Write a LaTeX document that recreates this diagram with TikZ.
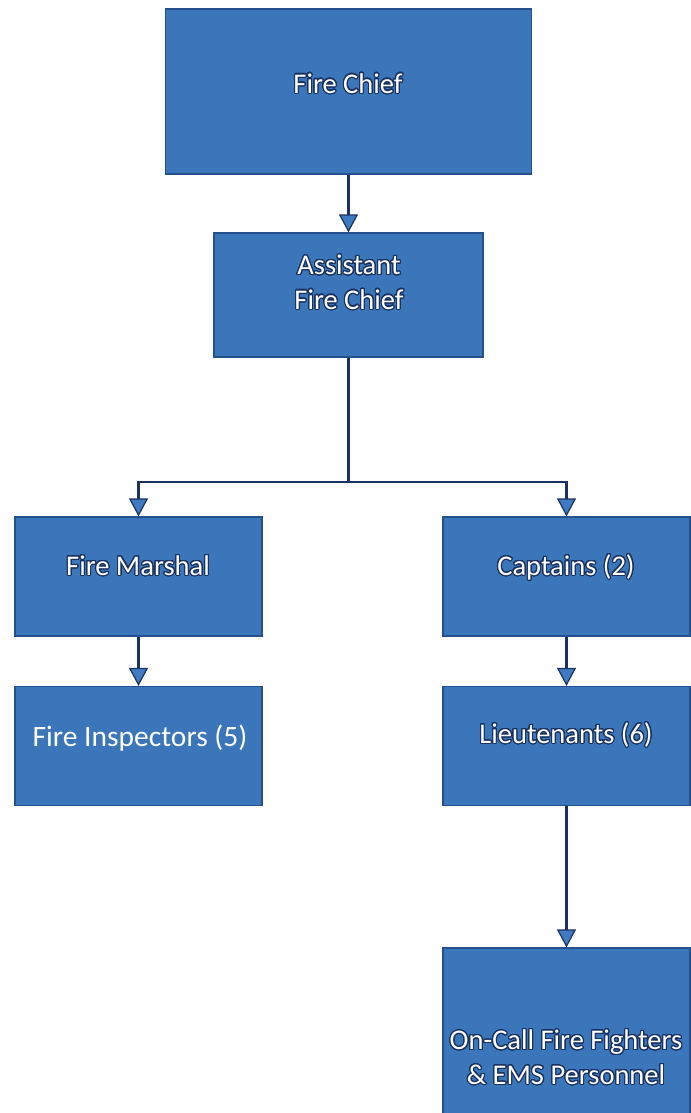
\documentclass[tikz,border=0pt]{standalone}
\usepackage{fontspec}
\setmainfont{Carlito}
\usepackage[copies]{contour}
\usetikzlibrary{arrows.meta}
\contourlength{1.1pt}
\contournumber{32}
\definecolor{boxfill}{HTML}{3B76BA}
\definecolor{boxedge}{HTML}{24508C}
\definecolor{navy}{HTML}{1A3260}
\definecolor{tipfill}{HTML}{3F7AC2}
\newcommand{\glow}[1]{\contour{navy}{#1}}
\tikzset{
  x=1bp, y=-1bp,
  unit/.style={draw=boxedge, line width=1.2bp, fill=boxfill, inner sep=0pt,
    minimum width=247bp, minimum height=119bp},
  caption/.style={text=white, align=center, inner sep=0pt,
    font=\fontsize{28.5bp}{34.5bp}\selectfont, text height=0.62em, text depth=0pt},
  conn/.style={draw=navy, line width=2.2bp,
    -{Triangle[width=19bp,length=18bp,fill=tipfill,line width=1.2bp]}},
}
\begin{document}
\begin{tikzpicture}
\clip (0,0) rectangle (691,1113);
\fill[white] (0,0) rectangle (691,1113);

% boxes
\node[unit, minimum width=366bp, minimum height=165bp] (chief) at (348.5,91.5) {};
\node[unit, minimum width=269bp, minimum height=124bp] (asst) at (348.5,295) {};
\node[unit] (marshal) at (138.5,576.5) {};
\node[unit] (captains) at (566.5,576.5) {};
\node[unit] (inspectors) at (138.5,746) {};
\node[unit] (lieut) at (566.5,746) {};
\node[unit, minimum height=190bp] (oncall) at (566.5,1043) {};

% captions
\node[caption] (chief-t) at (348,90) {\glow{Fire Chief}};
\node[caption] (asst-t) at (349,306) {\glow{Assistant}\\\glow{Fire Chief}};
\node[caption] (marshal-t) at (138,572) {\glow{Fire Marshal}};
\node[caption] (captains-t) at (566,572) {\glow{Captains (2)}};
\node[caption, font=\fontsize{29.5bp}{35bp}\selectfont] (inspectors-t) at (140,743) {Fire Inspectors (5)};
\node[caption] (lieut-t) at (566,740) {\glow{Lieutenants (6)}};
\node[caption] (oncall-t) at (566,1081) {\glow{On-Call Fire Fighters}\\\glow{\& EMS Personnel}};

% reporting lines
\coordinate (split) at (348.5,482);
\draw[conn] (chief) -- (asst);
\draw[conn] (asst.south) -- (split) -| (marshal.north);
\draw[conn] (split) -| (captains.north);
\draw[conn] (marshal) -- (inspectors);
\draw[conn] (captains) -- (lieut);
\draw[conn] (lieut) -- (oncall);
\end{tikzpicture}
\end{document}
